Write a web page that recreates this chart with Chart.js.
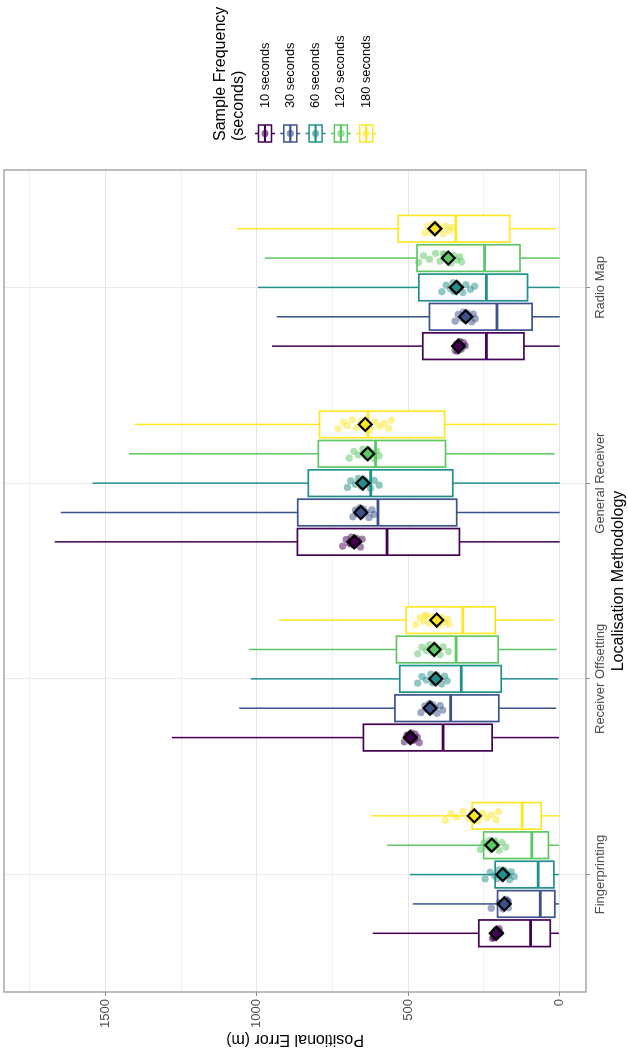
<!DOCTYPE html>
<html lang="en">
<head>
<meta charset="UTF-8">
<title>Positional Error by Localisation Methodology</title>
<style>
  html, body { margin: 0; padding: 0; background: #fff; overflow: hidden; }
  /* the plot is laid out landscape, then turned a quarter so it stands on the page */
  #wrap {
    position: absolute; left: 0; top: 0;
    width: 1049px; height: 628px;
    transform-origin: 0 0;
    transform: translate(0, 1049px) rotate(-90deg);
  }
</style>
</head>
<body>
<div id="wrap"><canvas id="errorChart" width="1049" height="628"></canvas></div>
<script src="https://cdn.jsdelivr.net/npm/chart.js@4.4.1/dist/chart.umd.min.js"></script>
<script>
var methods = ['Fingerprinting', 'Receiver Offsetting', 'General Receiver', 'Radio Map'];
var frequencies = ['10 seconds', '30 seconds', '60 seconds', '120 seconds', '180 seconds'];
var colours = ['#440154', '#3B528B', '#21908C', '#5DC863', '#FDE725'];

// box statistics in metres: one row per frequency, one column per method
var lowerWhisker = [
  [2, 2, 0, 0],
  [2, 11, 0, 0],
  [2, 5, 0, 0],
  [2, 10, 16, 0],
  [2, 18, 6, 11]
];
var lowerHinge = [
  [31, 223, 331, 118],
  [16, 201, 340, 91],
  [19, 193, 353, 106],
  [37, 203, 377, 131],
  [61, 213, 380, 165]
];
var medians = [
  [96, 385, 570, 242],
  [64, 360, 600, 207],
  [71, 325, 624, 242],
  [92, 342, 608, 248],
  [124, 320, 633, 343]
];
var upperHinge = [
  [267, 648, 866, 452],
  [205, 544, 865, 430],
  [213, 528, 830, 465],
  [251, 539, 797, 471],
  [289, 507, 793, 533]
];
var upperWhisker = [
  [617, 1280, 1667, 950],
  [485, 1058, 1648, 934],
  [495, 1020, 1543, 996],
  [570, 1026, 1423, 974],
  [621, 928, 1403, 1066]
];
var means = [
  [209, 493, 678, 334],
  [183, 428, 657, 310],
  [188, 409, 650, 341],
  [224, 414, 634, 368],
  [282, 406, 642, 412]
];

// per-run mean errors shown as jittered dots
var runMeans = [
  [
    [218, 212, 205, 200, 214, 209, 196, 222, 203, 210, 207, 215],
    [513, 505, 498, 490, 485, 478, 470, 464, 500, 482],
    [717, 705, 695, 688, 680, 672, 665, 658, 652, 690],
    [345, 340, 335, 330, 325, 318, 312, 338]
  ],
  [
    [226, 170, 190, 178, 185, 175, 195, 188, 172, 181, 200, 169],
    [458, 445, 438, 430, 425, 420, 412, 405, 395, 386, 432],
    [683, 675, 668, 660, 655, 648, 640, 630, 620, 614, 665],
    [345, 335, 325, 318, 312, 305, 298, 290, 285, 279, 320]
  ],
  [
    [246, 230, 215, 200, 190, 182, 175, 165, 160, 150, 195, 205, 185, 170],
    [469, 455, 440, 425, 415, 405, 398, 390, 380, 371, 410, 420],
    [701, 690, 675, 665, 655, 645, 635, 625, 612, 596, 660],
    [389, 375, 362, 352, 345, 338, 330, 320, 310, 295, 281, 350]
  ],
  [
    [262, 250, 240, 232, 225, 218, 210, 200, 190, 178, 236, 228, 214],
    [469, 455, 440, 430, 420, 412, 405, 395, 385, 367, 425],
    [695, 680, 665, 650, 640, 630, 620, 612, 605, 596, 645],
    [466, 450, 430, 410, 395, 380, 370, 360, 350, 340, 330, 323, 385]
  ],
  [
    [378, 360, 340, 320, 300, 290, 280, 270, 255, 240, 225, 210, 202, 265],
    [475, 462, 450, 440, 430, 420, 410, 400, 390, 380, 370, 366, 445],
    [731, 715, 700, 685, 670, 655, 640, 625, 610, 595, 580, 565, 555, 648],
    [445, 435, 425, 418, 410, 402, 395, 385, 375, 365, 355, 420]
  ]
];

var FONT = '"Liberation Sans", Arial, Helvetica, sans-serif';
var dodge = [-0.3, -0.15, 0, 0.15, 0.3];
var boxHalf = 0.068;
var jitter = [-0.022, 0.012, -0.006, 0.024, -0.016, 0.018, 0.002, -0.026, 0.014, -0.01, 0.006, -0.02, 0.022, -0.003];

function withAlpha(hex, a) {
  var n = parseInt(hex.slice(1), 16);
  return 'rgba(' + (n >> 16) + ',' + ((n >> 8) & 255) + ',' + (n & 255) + ',' + a + ')';
}

var datasets = [];
frequencies.forEach(function (freq, f) {
  datasets.push({
    label: freq + ' mean',
    order: 0,
    data: methods.map(function (m, i) { return { x: i + 1 + dodge[f], y: means[f][i] }; }),
    pointStyle: 'rectRot',
    pointRadius: 6.5,
    pointBorderWidth: 2.2,
    pointBorderColor: '#000',
    pointBackgroundColor: colours[f]
  });
});
frequencies.forEach(function (freq, f) {
  var pts = [];
  methods.forEach(function (m, i) {
    runMeans[f][i].forEach(function (v, k) {
      pts.push({ x: i + 1 + dodge[f] + jitter[k % jitter.length], y: v });
    });
  });
  datasets.push({
    label: freq,
    order: 1,
    data: pts,
    pointRadius: 3.6,
    pointBorderWidth: 0,
    pointBackgroundColor: withAlpha(colours[f], 0.5)
  });
});

// boxes and whiskers, drawn under the points
var boxPlugin = {
  id: 'boxes',
  beforeDatasetsDraw: function (chart) {
    var ctx = chart.ctx, xs = chart.scales.x, ys = chart.scales.y, area = chart.chartArea;
    ctx.save();
    ctx.beginPath();
    ctx.rect(area.left, area.top, area.right - area.left, area.bottom - area.top);
    ctx.clip();
    frequencies.forEach(function (freq, f) {
      methods.forEach(function (m, i) {
        var c = i + 1 + dodge[f];
        var x0 = xs.getPixelForValue(c - boxHalf);
        var x1 = xs.getPixelForValue(c + boxHalf);
        var xc = xs.getPixelForValue(c);
        var yLo = ys.getPixelForValue(lowerWhisker[f][i]);
        var yQ1 = ys.getPixelForValue(lowerHinge[f][i]);
        var yMd = ys.getPixelForValue(medians[f][i]);
        var yQ3 = ys.getPixelForValue(upperHinge[f][i]);
        var yHi = ys.getPixelForValue(upperWhisker[f][i]);
        ctx.strokeStyle = colours[f];
        ctx.lineWidth = 1.5;
        ctx.beginPath();
        ctx.moveTo(xc, yHi); ctx.lineTo(xc, yQ3);
        ctx.moveTo(xc, yQ1); ctx.lineTo(xc, yLo);
        ctx.stroke();
        ctx.fillStyle = '#fff';
        ctx.fillRect(x0, yQ3, x1 - x0, yQ1 - yQ3);
        ctx.lineWidth = 1.7;
        ctx.strokeRect(x0, yQ3, x1 - x0, yQ1 - yQ3);
        ctx.lineWidth = 2.8;
        ctx.beginPath();
        ctx.moveTo(x0, yMd); ctx.lineTo(x1, yMd);
        ctx.stroke();
      });
    });
    ctx.restore();
  },
  afterDatasetsDraw: function (chart) {
    var ctx = chart.ctx, a = chart.chartArea;
    ctx.save();
    ctx.strokeStyle = '#9A9A9A';
    ctx.lineWidth = 1.3;
    ctx.strokeRect(a.left, a.top, a.right - a.left, a.bottom - a.top);
    ctx.restore();
  }
};

// legend: boxplot key glyphs with labels, to the right of the panel
var legendPlugin = {
  id: 'freqLegend',
  afterDraw: function (chart) {
    var ctx = chart.ctx;
    var left = chart.chartArea.right + 29;
    ctx.save();
    ctx.fillStyle = '#000';
    ctx.textAlign = 'left';
    ctx.textBaseline = 'middle';
    ctx.font = '16px ' + FONT;
    ctx.fillText('Sample Frequency', left, 221);
    ctx.fillText('(seconds)', left, 239);
    ctx.font = '12.8px ' + FONT;
    frequencies.forEach(function (label, f) {
      var cy = 265 + f * 25.3;
      var bx = left - 1, bw = 17, cx = bx + bw / 2;
      ctx.strokeStyle = colours[f];
      ctx.lineWidth = 1.5;
      ctx.beginPath();
      ctx.moveTo(cx, cy - 10); ctx.lineTo(cx, cy - 6.5);
      ctx.moveTo(cx, cy + 6.5); ctx.lineTo(cx, cy + 10);
      ctx.stroke();
      ctx.fillStyle = '#fff';
      ctx.fillRect(bx, cy - 6.5, bw, 13);
      ctx.strokeRect(bx, cy - 6.5, bw, 13);
      ctx.lineWidth = 2.2;
      ctx.beginPath();
      ctx.moveTo(bx, cy); ctx.lineTo(bx + bw, cy);
      ctx.stroke();
      ctx.fillStyle = withAlpha(colours[f], 0.6);
      ctx.beginPath();
      ctx.arc(cx, cy, 3.6, 0, Math.PI * 2);
      ctx.fill();
      ctx.fillStyle = '#000';
      ctx.fillText(label, left + 33, cy);
    });
    ctx.restore();
  }
};

new Chart(document.getElementById('errorChart'), {
  type: 'scatter',
  data: { datasets: datasets },
  plugins: [boxPlugin, legendPlugin],
  options: {
    responsive: false,
    animation: false,
    events: [],
    layout: { autoPadding: false, padding: { left: 0, right: 170, top: 4, bottom: 0 } },
    plugins: { legend: { display: false }, tooltip: { enabled: false } },
    scales: {
      x: {
        type: 'linear',
        min: 0.4,
        max: 4.6,
        afterBuildTicks: function (axis) {
          axis.ticks = methods.map(function (m, i) { return { value: i + 1 }; });
        },
        afterFit: function (axis) {
          axis.height = 42;
          axis.paddingLeft = 0;
          axis.paddingRight = 0;
        },
        ticks: {
          autoSkip: false,
          maxRotation: 0,
          padding: 3,
          color: '#4D4D4D',
          font: { family: FONT, size: 13 },
          callback: function (v) { return methods[Math.round(v) - 1]; }
        },
        grid: { color: '#EBEBEB', lineWidth: 1, tickLength: 4, tickColor: '#8C8C8C' },
        border: { display: false },
        title: {
          display: true,
          text: 'Localisation Methodology',
          color: '#000',
          font: { family: FONT, size: 16 },
          padding: { top: 0, bottom: 0 }
        }
      },
      y: {
        type: 'linear',
        min: -87,
        max: 1835,
        afterFit: function (axis) {
          axis.width = 57;
          axis.paddingTop = 0;
          axis.paddingBottom = 0;
        },
        ticks: {
          stepSize: 250,
          includeBounds: false,
          padding: 3,
          color: '#4D4D4D',
          font: { family: FONT, size: 13 },
          callback: function (v) { return v % 500 === 0 ? v : ''; }
        },
        grid: {
          color: function (c) { return c.tick && c.tick.value % 500 === 0 ? '#E6E6E6' : '#F0F0F0'; },
          lineWidth: 1,
          tickLength: 4,
          tickColor: function (c) { return c.tick && c.tick.value % 500 === 0 ? '#8C8C8C' : 'rgba(0,0,0,0)'; }
        },
        border: { display: false },
        title: {
          display: true,
          text: 'Positional Error (m)',
          color: '#000',
          font: { family: FONT, size: 16 },
          padding: { top: 0, bottom: 0 }
        }
      }
    }
  }
});
</script>
</body>
</html>
